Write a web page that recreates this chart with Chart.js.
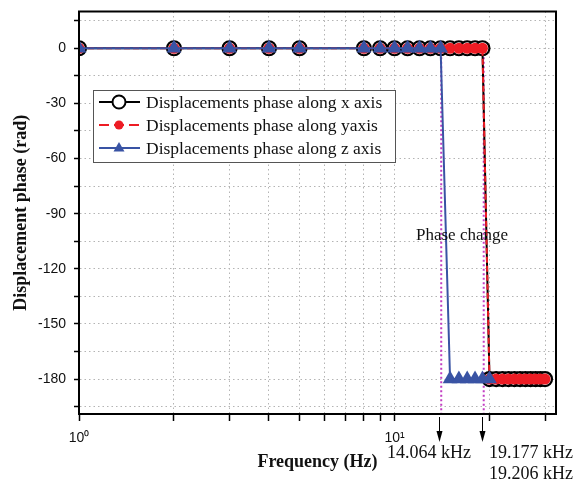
<!DOCTYPE html>
<html>
<head>
<meta charset="utf-8">
<script src="https://cdn.jsdelivr.net/npm/chart.js@4.4.0/dist/chart.umd.min.js"></script>
<style>
    html, body { margin: 0; padding: 0; background: #fff; }
    #wrap { width: 574px; height: 483px; position: relative; }
</style>
</head>
<body>
<div id="wrap"><canvas id="phaseChart"></canvas></div>
<script>
// Frequencies (Hz) sampled for the x and y displacement series
const freqXY = [1, 2, 3, 4, 5, 8, 9, 10, 11, 12, 13, 14, 15, 16, 17, 18, 19,
    20, 21, 22, 23, 24, 25, 26, 27, 28, 29, 30];
const phaseX = [0, 0, 0, 0, 0, 0, 0, 0, 0, 0, 0, 0, 0, 0, 0, 0, 0,
    -180, -180, -180, -180, -180, -180, -180, -180, -180, -180, -180];
const phaseY = [0, 0, 0, 0, 0, 0, 0, 0, 0, 0, 0, 0, 0, 0, 0, 0, 0,
    -180, -180, -180, -180, -180, -180, -180, -180, -180, -180, -180];

// z displacement series
const freqZ = [1, 2, 3, 4, 5, 8, 9, 10, 11, 12, 13, 14, 15, 16, 17, 18, 19, 20];
const phaseZ = [0, 0, 0, 0, 0, 0, 0, 0, 0, 0, 0, 0, -180, -180, -180, -180, -180, -180];

// Axis ticks
const xTicks = [1, 2, 3, 4, 5, 6, 7, 8, 9, 10, 20, 30];
const xTickLabels = ['10\u2070', '', '', '', '', '', '', '', '', '10\u00b9', '', ''];
const yTicks = [-195, -180, -165, -150, -135, -120, -105, -90, -75, -60, -45, -30, -15, 0, 15];

// Phase change markers
const changeFreqs = [14.064, 19.177];
const changeLabels = ['14.064 kHz', '19.177 kHz', '19.206 kHz'];

const seriesLabels = [
    'Displacements phase along x axis',
    'Displacements phase along yaxis',
    'Displacements phase along z axis'
];

const colors = {
    black: '#000000',
    red: '#ed1c24',
    blue: '#3953a4',
    magenta: '#c23cc2',
    grid: '#b4b4b4',
    text: '#111111'
};

const toPoints = (xs, ys) => xs.map((x, i) => ({ x: x, y: ys[i] }));

// Draws the frame, legend box, dotted markers, arrows and notes
const overlayPlugin = {
    id: 'overlay',
    beforeDatasetsDraw(chart) {
        const ctx = chart.ctx;
        const xs = chart.scales.x;
        const ys = chart.scales.y;
        const area = chart.chartArea;
        ctx.save();
        ctx.strokeStyle = colors.magenta;
        ctx.lineWidth = 2;
        ctx.setLineDash([2, 2.5]);
        changeFreqs.forEach(f => {
            const px = xs.getPixelForValue(f);
            ctx.beginPath();
            ctx.moveTo(px, ys.getPixelForValue(0));
            ctx.lineTo(px, area.bottom);
            ctx.stroke();
        });
        ctx.restore();
    },
    afterDraw(chart) {
        const ctx = chart.ctx;
        const xs = chart.scales.x;
        const area = chart.chartArea;
        ctx.save();

        // plot frame
        ctx.strokeStyle = '#000';
        ctx.lineWidth = 2;
        ctx.strokeRect(area.left, area.top, area.right - area.left, area.bottom - area.top);

        // legend box
        ctx.fillStyle = '#fff';
        ctx.fillRect(93.5, 90.5, 302, 72);
        ctx.strokeStyle = '#555';
        ctx.lineWidth = 1;
        ctx.strokeRect(93.5, 90.5, 302, 72);

        const rows = [102, 125, 148];
        ctx.font = '17.5px "Liberation Serif"';
        ctx.textBaseline = 'middle';
        ctx.textAlign = 'left';
        rows.forEach((ry, i) => {
            ctx.lineWidth = 2;
            if (i === 0) {
                ctx.strokeStyle = colors.black;
                ctx.setLineDash([]);
            } else if (i === 1) {
                ctx.strokeStyle = colors.red;
                ctx.setLineDash([10, 5]);
            } else {
                ctx.strokeStyle = colors.blue;
                ctx.setLineDash([]);
            }
            ctx.beginPath();
            ctx.moveTo(99, ry);
            ctx.lineTo(140, ry);
            ctx.stroke();
            ctx.setLineDash([]);
            if (i === 0) {
                ctx.beginPath();
                ctx.arc(119, ry, 6.5, 0, Math.PI * 2);
                ctx.fillStyle = '#fff';
                ctx.fill();
                ctx.lineWidth = 2;
                ctx.strokeStyle = '#000';
                ctx.stroke();
            } else if (i === 1) {
                ctx.beginPath();
                ctx.arc(119, ry, 4.5, 0, Math.PI * 2);
                ctx.fillStyle = colors.red;
                ctx.fill();
            } else {
                ctx.beginPath();
                ctx.moveTo(119, ry - 6);
                ctx.lineTo(124.5, ry + 3.5);
                ctx.lineTo(113.5, ry + 3.5);
                ctx.closePath();
                ctx.fillStyle = colors.blue;
                ctx.fill();
            }
            ctx.fillStyle = colors.text;
            ctx.fillText(seriesLabels[i], 146, ry + 1);
        });

        // arrows under the axis
        ctx.strokeStyle = '#000';
        ctx.fillStyle = '#000';
        ctx.lineWidth = 1;
        const arrowX = changeFreqs.map(f => Math.round(xs.getPixelForValue(f)) - 1.5);
        arrowX.forEach(ax => {
            ctx.beginPath();
            ctx.moveTo(ax, area.bottom + 3);
            ctx.lineTo(ax, 434);
            ctx.stroke();
            ctx.beginPath();
            ctx.moveTo(ax - 3, 431);
            ctx.lineTo(ax + 3, 431);
            ctx.lineTo(ax, 442);
            ctx.closePath();
            ctx.fill();
        });

        // notes
        ctx.fillStyle = colors.text;
        ctx.font = '18px "Liberation Serif"';
        ctx.textAlign = 'right';
        ctx.fillText(changeLabels[0], 471, 453);
        ctx.textAlign = 'left';
        ctx.fillText(changeLabels[1], 489, 453);
        ctx.fillText(changeLabels[2], 489, 474);
        ctx.font = '17px "Liberation Serif"';
        ctx.fillText('Phase change', 416, 236);
        ctx.restore();
    }
};

const ctx = document.getElementById('phaseChart').getContext('2d');
new Chart(ctx, {
    type: 'line',
    data: {
        datasets: [{
            label: seriesLabels[2],
            data: toPoints(freqZ, phaseZ),
            borderColor: colors.blue,
            backgroundColor: colors.blue,
            borderWidth: 2,
            pointStyle: 'triangle',
            pointRadius: 8.5,
            pointBorderWidth: 0,
            pointBackgroundColor: colors.blue,
            order: 0
        }, {
            label: seriesLabels[1],
            data: toPoints(freqXY, phaseY),
            borderColor: colors.red,
            borderDash: [6, 3],
            borderWidth: 2,
            pointStyle: 'circle',
            pointRadius: 5.5,
            pointBorderWidth: 0,
            pointBackgroundColor: colors.red,
            order: 1
        }, {
            label: seriesLabels[0],
            data: toPoints(freqXY, phaseX),
            borderColor: colors.black,
            borderWidth: 2,
            pointStyle: 'circle',
            pointRadius: 7,
            pointBorderWidth: 2.2,
            pointBorderColor: colors.black,
            pointBackgroundColor: '#fff',
            order: 2
        }]
    },
    options: {
        responsive: true,
        maintainAspectRatio: false,
        animation: false,
        layout: {
            padding: { left: 11, right: 18, top: 11.5, bottom: 10 }
        },
        elements: {
            line: { tension: 0, fill: false }
        },
        plugins: {
            legend: { display: false },
            tooltip: { enabled: false }
        },
        scales: {
            x: {
                type: 'logarithmic',
                min: 1,
                max: 32.5,
                afterBuildTicks: scale => {
                    scale.ticks = xTicks.map(v => ({ value: v }));
                },
                afterFit: scale => {
                    scale.height = 59;
                    scale.paddingLeft = 0;
                    scale.paddingRight = 0;
                },
                grid: {
                    color: colors.grid,
                    lineWidth: 1,
                    tickColor: '#000',
                    tickLength: 7,
                    tickWidth: 1.5,
                    tickBorderDash: []
                },
                border: {
                    color: '#000',
                    width: 2,
                    dash: [1.5, 3]
                },
                ticks: {
                    autoSkip: false,
                    maxRotation: 0,
                    padding: 9,
                    color: colors.text,
                    font: { family: 'Liberation Sans', size: 14 },
                    callback: (value, index) => xTickLabels[index]
                },
                title: {
                    display: true,
                    text: 'Frequency (Hz)',
                    color: colors.text,
                    padding: 0,
                    font: { family: 'Liberation Serif', size: 18, weight: 'bold' }
                }
            },
            y: {
                min: -199,
                max: 20,
                afterBuildTicks: scale => {
                    scale.ticks = yTicks.map(v => ({ value: v }));
                },
                afterFit: scale => {
                    scale.width = 68;
                    scale.paddingTop = 0;
                    scale.paddingBottom = 0;
                },
                grid: {
                    color: colors.grid,
                    lineWidth: 1,
                    tickColor: '#000',
                    tickLength: 5,
                    tickWidth: 1.5,
                    tickBorderDash: []
                },
                border: {
                    color: '#000',
                    width: 2,
                    dash: [1.5, 3]
                },
                ticks: {
                    padding: 8,
                    color: colors.text,
                    font: { family: 'Liberation Sans', size: 14 },
                    callback: value => (value % 30 === 0 ? String(value) : '')
                },
                title: {
                    display: true,
                    text: 'Displacement phase (rad)',
                    color: colors.text,
                    padding: 0,
                    font: { family: 'Liberation Serif', size: 18, weight: 'bold' }
                }
            }
        }
    },
    plugins: [overlayPlugin]
});
</script>
</body>
</html>
